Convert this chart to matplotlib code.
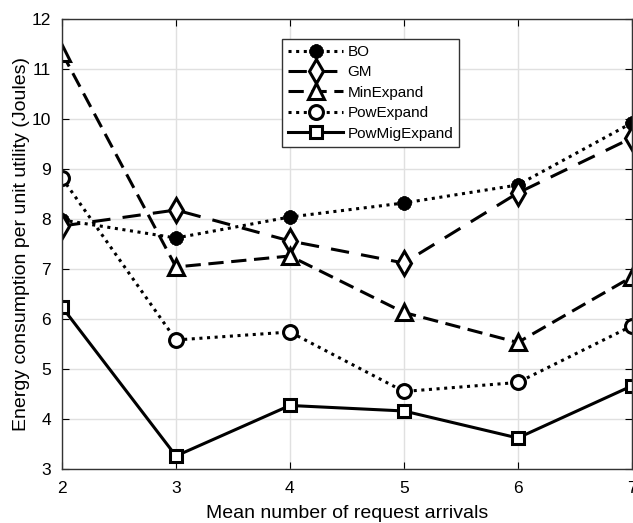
import matplotlib
matplotlib.use("Agg")
import matplotlib.pyplot as plt

# values
arrivals = [2, 3, 4, 5, 6, 7]
bo = [7.98, 7.62, 8.04, 8.32, 8.68, 9.92]
gm = [7.86, 8.18, 7.56, 7.12, 8.52, 9.62]
min_expand = [11.32, 7.04, 7.26, 6.13, 5.53, 6.84]
pow_expand = [8.82, 5.58, 5.74, 4.55, 4.73, 5.86]
pow_mig_expand = [6.24, 3.26, 4.27, 4.16, 3.62, 4.66]

plt.rcParams["font.family"] = ["Liberation Sans", "DejaVu Sans"]

fig = plt.figure(figsize=(6.33, 5.23), dpi=100)
ax = fig.add_axes([0.098, 0.1033, 0.9, 0.8604])

lw = 2.2
ax.plot(arrivals, bo, color="black", lw=lw, linestyle=(0, (1, 1.5)),
        marker=(8, 2, 0), markersize=10, markeredgewidth=3, label="BO")
ax.plot(arrivals, gm, color="black", lw=lw, linestyle=(0, (6, 4)),
        marker="d", markersize=12, markerfacecolor="white", markeredgewidth=2.2,
        label="GM")
ax.plot(arrivals, min_expand, color="black", lw=lw, linestyle=(0, (5, 2.5)),
        marker="^", markersize=12, markerfacecolor="white", markeredgewidth=2.2,
        label="MinExpand")
ax.plot(arrivals, pow_expand, color="black", lw=lw, linestyle=(0, (1, 1.5)),
        marker="o", markersize=10, markerfacecolor="white", markeredgewidth=2.2,
        label="PowExpand")
ax.plot(arrivals, pow_mig_expand, color="black", lw=lw, linestyle="-",
        marker="s", markersize=8, markerfacecolor="white", markeredgewidth=2.2,
        label="PowMigExpand")

ax.set_xlim(2, 7)
ax.set_ylim(3, 12)
ax.set_xticks(range(2, 8))
ax.set_yticks(range(3, 13))
ax.grid(True, color="#e0e0e0", linewidth=1)
ax.set_axisbelow(True)
ax.tick_params(direction="in", top=True, right=True, labelsize=12.5, length=5)
ax.tick_params(axis="x", pad=9)
ax.tick_params(axis="y", pad=8)
for sp in ax.spines.values():
    sp.set_color("#333333")
    sp.set_linewidth(1)

ax.set_xlabel("Mean number of request arrivals", fontsize=14, labelpad=6)
ax.set_ylabel("Energy consumption per unit utility (Joules)", fontsize=14,
              labelpad=1)

leg = ax.legend(loc="upper left", bbox_to_anchor=(0.386, 0.956), fontsize=11,
                handlelength=3.6, fancybox=False, framealpha=1,
                edgecolor="#333333", borderpad=0.4, labelspacing=0.42,
                handletextpad=0.3, borderaxespad=0)
leg.get_frame().set_linewidth(1)

fig.savefig("out.png", dpi=100)
